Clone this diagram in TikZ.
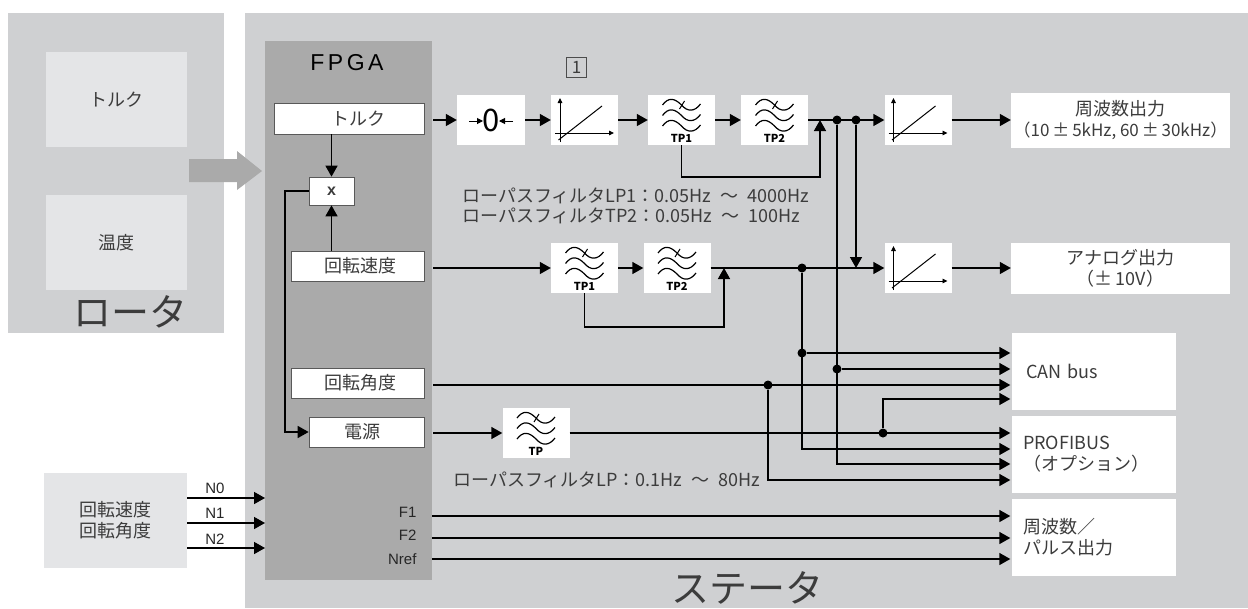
\documentclass[tikz,border=0pt]{standalone}
\usepackage{fontspec}
\setmainfont{Noto Sans CJK JP}
\newfontfamily\helv{Liberation Sans}
\usetikzlibrary{arrows.meta}
\definecolor{panel}{HTML}{CFD0D2}
\definecolor{pale}{HTML}{E4E5E7}
\definecolor{fpga}{HTML}{AAAAAA}
\definecolor{ink}{HTML}{3C3C3C}
\newcommand{\tildegap}{\hspace{.5em}～\hspace{.5em}}
\tikzset{
  sig/.style={line width=1.5pt,black},
  sigarrow/.style={sig,-{Triangle[length=11pt,width=12pt]}},
  busarrow/.style={sigarrow,shorten >=1.5pt},
  dot/.style={circle,fill=black,inner sep=0pt,minimum size=9pt},
  whitebox/.style={fill=white,inner sep=0pt},
  fpgabox/.style={fill=white,draw=black!65,line width=.7pt,inner sep=0pt,text=ink,font=\fontsize{18}{20}\selectfont},
  palebox/.style={fill=pale,inner sep=0pt,text=ink,font=\fontsize{18}{21}\selectfont},
  outbox/.style={fill=white,inner sep=0pt,text=ink,align=center,font=\fontsize{18}{21}\selectfont},
  busbox/.style={fill=white,inner sep=0pt,inner xsep=11pt,minimum width=164pt,minimum height=77pt,text width=142pt,align=left,text=ink,font=\fontsize{18}{21}\selectfont},
  note/.style={text=ink,align=left,font=\fontsize{18}{20}\selectfont},
  bigtext/.style={text=ink,font=\fontsize{38}{42}\selectfont},
  pinlabel/.style={text=black!85,font=\helv\fontsize{15}{17}\selectfont},
  thinaxis/.style={line width=.9pt,-{Triangle[length=5pt,width=4.5pt]}}
}
\newcommand{\tpfilter}[3]{
  \node[whitebox,minimum width=67pt,minimum height=50pt] (#1) at (#2) {};
  \begin{scope}[shift={(#2)},line width=1.2pt]
    \foreach \yy in {0,10.5,21}
      \draw (-19,-15+\yy) .. controls (-13,-23+\yy) and (-7,-22+\yy) .. (0,-15+\yy) .. controls (6,-8+\yy) and (13,-8+\yy) .. (19,-16+\yy);
    \draw[line width=1pt] (-2,-11) -- (3,-19);
    \node[font=\fontsize{11}{12}\selectfont\bfseries,inner sep=0pt] (#1t) at (0,18) {#3};
  \end{scope}
}
\newcommand{\gainbox}[2]{
  \node[whitebox,minimum width=67pt,minimum height=50pt] (#1) at (#2) {};
  \begin{scope}[shift={(#2)}]
    \draw[thinaxis] (-24.5,22) -- (-24.5,-22);
    \draw[thinaxis] (-29.5,13) -- (29.5,13);
    \draw[line width=1pt] (-26,20) -- (17.5,-14);
  \end{scope}
}
\begin{document}
\begin{tikzpicture}[x=1pt,y=-1pt]
\useasboundingbox (0,0) rectangle (1248,608);
\fill[panel] (8,13) rectangle (224,333);
\fill[panel] (245,13) rectangle (1248,608);
\fill[fpga] (265,41) rectangle (432,580);
\node[palebox,minimum width=141pt,minimum height=95pt] (rtq) at (116.5,99.5) {トルク};
\node[palebox,minimum width=141pt,minimum height=95pt] (rtemp) at (116.5,242.5) {温度};
\node[bigtext] (rotor) at (130,312) {ロータ};
\node[bigtext] (stator) at (747,588) {ステータ};
\node[palebox,minimum width=143pt,minimum height=95pt,align=center] (speed) at (115.5,520.5) {回転速度\\回転角度};
\fill[fpga] (189,159) -- (237,159) -- (237,151) -- (262,171) -- (237,190) -- (237,182) -- (189,182) -- cycle;
\node[font=\helv\fontsize{23}{26}\selectfont,text=black] (fpgat) at (347,63) {F\hspace{3.5pt}P\hspace{3.5pt}G\hspace{3.5pt}A};
\node[fpgabox,minimum width=150pt,minimum height=31pt] (tq) at (349,118.5) {\hspace*{18pt}トルク};
\node[fpgabox,minimum width=45pt,minimum height=28pt,font=\helv\bfseries\fontsize{16}{18}\selectfont] (xb) at (331.5,191) {x};
\node[fpgabox,minimum width=133pt,minimum height=30pt] (rs) at (357.5,266) {\hspace*{5pt}回転速度};
\node[fpgabox,minimum width=133pt,minimum height=30pt] (ra) at (357.5,383) {\hspace*{5pt}回転角度};
\node[fpgabox,minimum width=115pt,minimum height=30pt] (pw) at (366.5,432) {\hspace*{-8pt}電源};
\node[pinlabel,anchor=east] (f1l) at (420,512) {F1};
\node[pinlabel,anchor=east] (f2l) at (420,535) {F2};
\node[pinlabel,anchor=east] (nrl) at (420,559) {Nref};
\node[pinlabel] (n0l) at (215,488) {N0};
\node[pinlabel] (n1l) at (215,513) {N1};
\node[pinlabel] (n2l) at (215,539) {N2};
\node[whitebox,minimum width=68pt,minimum height=50pt,font=\fontsize{31}{33}\selectfont] (zb) at (491,120) {0};
\coordinate (zla) at (469,121);
\coordinate (zlb) at (483,121);
\coordinate (zra) at (513,121);
\coordinate (zrb) at (499,121);
\draw[line width=1pt,-{Triangle[length=6pt,width=6pt]}] (zla) -- (zlb);
\draw[line width=1pt,-{Triangle[length=6pt,width=6pt]}] (zra) -- (zrb);
\node[draw=black!70,line width=.7pt,minimum size=20pt,inner sep=0pt,text=ink,font=\fontsize{17}{19}\selectfont] (mark) at (576.5,67) {1};
\gainbox{ga}{584.5,120}
\tpfilter{tpa}{681.5,120}{TP1}
\tpfilter{tpb}{774.5,120}{TP2}
\gainbox{gb}{918,120}
\tpfilter{tpc}{584.5,268}{TP1}
\tpfilter{tpd}{677,268}{TP2}
\gainbox{gc}{918,268}
\tpfilter{tpe}{536,433}{TP}
\node[outbox,minimum width=219pt,minimum height=55pt] (outa) at (1120.5,120.5) {周波数出力\\\fontsize{17}{20}\selectfont（10\,±\,5kHz, 60\,±\,30kHz）};
\node[outbox,minimum width=219pt,minimum height=51pt] (outb) at (1120.5,268.5) {アナログ出力\\（±\,10V）};
\node[busbox] (can) at (1094,371.5) {\hspace*{3pt}CAN bus};
\node[busbox] (prof) at (1094,454.5) {PROFIBUS\\（オプション）};
\node[busbox] (freq) at (1094,537.5) {周波数／\\パルス出力};
\node[note,anchor=west,inner sep=0pt] (lpa) at (462,206) {ローパスフィルタLP1：0.05Hz\tildegap 4000Hz\\ローパスフィルタTP2：0.05Hz\tildegap 100Hz};
\node[note,anchor=west,inner sep=0pt] (lpb) at (453,480) {ローパスフィルタLP：0.1Hz\tildegap 80Hz};
\node[dot] (ja) at (837,120) {};
\node[dot] (jb) at (856,120) {};
\node[dot] (jc) at (802,268) {};
\node[dot] (jd) at (802,353) {};
\node[dot] (je) at (837,369) {};
\node[dot] (jf) at (768,385) {};
\node[dot] (jg) at (883,433) {};
\coordinate (tqo) at (433,120);
\coordinate (rso) at (433,268);
\coordinate (rao) at (433,385);
\coordinate (pwo) at (433,433);
\coordinate (pwi) at (285,432);
\coordinate (f1o) at (432,516);
\coordinate (f2o) at (432,538);
\coordinate (nro) at (432,559);
\coordinate (n0i) at (265,498);
\coordinate (n1i) at (265,523);
\coordinate (n2i) at (265,548);
\coordinate (fba) at (820,177);
\coordinate (fbb) at (724,327);
\coordinate (lowa) at (768,480);
\coordinate (lowb) at (802,449);
\coordinate (lowc) at (837,464);
\coordinate (hook) at (883,399);
\draw[sigarrow] (xb.north |- tq.south) -- (xb.north);
\draw[sigarrow] (xb.south |- rs.north) -- (xb.south);
\draw[sigarrow] (xb.west) -| (pwi) -- (pw.west);
\draw[sigarrow] (tqo) -- (zb.west);
\draw[sigarrow] (zb.east) -- (ga.west);
\draw[sigarrow] (ga.east) -- (tpa.west);
\draw[sigarrow] (tpa.east) -- (tpb.west);
\draw[sigarrow] (tpb.east) -- (gb.west);
\draw[sigarrow] (gb.east) -- (gb.east -| outa.west);
\draw[sigarrow] (tpa.south) |- (fba) -- (fba |- tpb.east);
\draw[sigarrow] (rso) -- (tpc.west);
\draw[sigarrow] (tpc.east) -- (tpd.west);
\draw[sigarrow] (tpd.east) -- (gc.west);
\draw[sigarrow] (gc.east) -- (gc.east -| outb.west);
\draw[sigarrow] (tpc.south) |- (fbb) -- (fbb |- tpd.east);
\draw[sigarrow] (jb) -- (jb |- gc.west);
\draw[busarrow] (ja) -- (lowc) -- (lowc -| prof.west);
\draw[busarrow] (jc) -- (lowb) -- (lowb -| prof.west);
\draw[busarrow] (jd) -- (jd -| can.west);
\draw[busarrow] (je) -- (je -| can.west);
\draw[busarrow] (rao) -- (rao -| can.west);
\draw[busarrow] (jf) -- (lowa) -- (lowa -| prof.west);
\draw[sigarrow] (pwo) -- (tpe.west);
\draw[busarrow] (tpe.east) -- (tpe.east -| prof.west);
\draw[busarrow] (jg) -- (hook) -- (hook -| can.west);
\draw[busarrow] (f1o) -- (f1o -| freq.west);
\draw[busarrow] (f2o) -- (f2o -| freq.west);
\draw[busarrow] (nro) -- (nro -| freq.west);
\draw[sigarrow] (n0i -| speed.east) -- (n0i);
\draw[sigarrow] (n1i -| speed.east) -- (n1i);
\draw[sigarrow] (n2i -| speed.east) -- (n2i);
\end{tikzpicture}
\end{document}
